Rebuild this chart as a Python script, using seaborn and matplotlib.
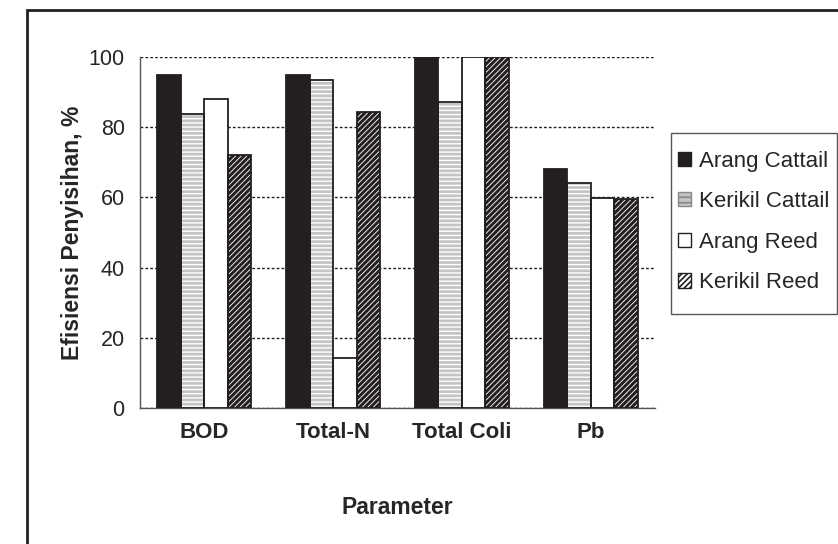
import matplotlib
matplotlib.use("Agg")
import matplotlib.pyplot as plt
import matplotlib.patches as mpatches
import seaborn as sns
import pandas as pd

categories = ["BOD", "Total-N", "Total Coli", "Pb"]
series = ["Arang Cattail", "Kerikil Cattail", "Arang Reed", "Kerikil Reed"]
arang_cattail = [95, 95, 100, 68]
kerikil_cattail = [83.7, 93.4, 87.3, 64]
arang_reed = [88, 14.2, 100, 59.7]
kerikil_reed = [72.2, 84.3, 100, 59.5]
yticks = [0, 20, 40, 60, 80, 100]

rows = []
for name, vals in zip(series, [arang_cattail, kerikil_cattail, arang_reed, kerikil_reed]):
    for c, v in zip(categories, vals):
        rows.append({"Parameter": c, "Series": name, "Value": v})
df = pd.DataFrame(rows)

sns.set_style("white")
plt.rcParams["font.family"] = ["Liberation Sans", "DejaVu Sans"]
plt.rcParams["hatch.linewidth"] = 1.2

dark = "#231f20"
W, H = 838, 544
fig = plt.figure(figsize=(8.38, 5.44), dpi=100)
ax = fig.add_axes([140 / W, 1 - 408 / H, (655 - 140) / W, (408 - 57) / H])

sns.barplot(data=df, x="Parameter", y="Value", hue="Series", order=categories,
            hue_order=series, ax=ax, width=0.73, gap=0, errorbar=None,
            palette=["white"] * 4, saturation=1, legend=False)

styles = [
    dict(fc=dark, hatch=None, hc=dark, hlw=1.2),
    dict(fc="#c4c4c4", hatch="----", hc="white", hlw=1.0),
    dict(fc="white", hatch=None, hc=dark, hlw=1.2),
    dict(fc="white", hatch="//////", hc=dark, hlw=2.2),
]
for cont, st in zip(ax.containers, styles):
    for p in cont.patches:
        p.set_facecolor(st["fc"])
        p.set_hatch(st["hatch"])
        p.set_edgecolor(st["hc"])
        p.set_linewidth(0)
        if hasattr(p, "set_hatch_linewidth"):
            p.set_hatch_linewidth(st["hlw"])
        ax.add_patch(mpatches.Rectangle(p.get_xy(), p.get_width(), p.get_height(),
                                        facecolor="none", edgecolor=dark, lw=1.3, zorder=3))

ax.set_ylim(0, 100)
ax.set_xlim(-0.5, len(categories) - 0.5)
ax.set_yticks(yticks)
ax.set_yticklabels([str(t) for t in yticks], fontsize=15.5)
ax.yaxis.grid(True, linestyle=(0, (2, 1.5)), color=dark, linewidth=1)
ax.set_axisbelow(True)
ax.tick_params(axis="y", direction="inout", length=8, width=1, color="#555555", pad=7)
ax.set_xticks(range(len(categories)))
ax.set_xticklabels(categories, fontsize=16, fontweight="bold")
ax.tick_params(axis="x", length=0, pad=10)
ax.set_xticks([i - 0.5 for i in range(len(categories) + 1)], minor=True)
ax.tick_params(axis="x", which="minor", direction="out", length=6, width=1, color="#555555")
for s in ["top", "right"]:
    ax.spines[s].set_visible(False)
for s in ["left", "bottom"]:
    ax.spines[s].set_color("#555555")
    ax.spines[s].set_linewidth(1)

ax.set_ylabel("Efisiensi Penyisihan, %", fontsize=16.5, fontweight="bold", labelpad=3)
ax.set_xlabel("Parameter", fontsize=16.5, fontweight="bold", labelpad=38)

handles = [mpatches.Patch(facecolor=st["fc"], hatch=st["hatch"], edgecolor=dark, lw=1)
           for st in styles]
handles[1] = mpatches.Patch(facecolor="#c4c4c4", hatch="---", edgecolor="#888888", lw=1)
leg = ax.legend(handles, series, loc="upper left", bbox_to_anchor=(671 / W, 1 - 144 / H),
                bbox_transform=fig.transFigure, fontsize=16, frameon=False,
                borderpad=0.3, labelspacing=0.88, handlelength=0.6, handleheight=0.6,
                handletextpad=0.35, borderaxespad=0)

# legend frame
fig.add_artist(mpatches.Rectangle((671 / W, 1 - 314 / H), (837 - 671) / W, (314 - 133) / H,
                                  transform=fig.transFigure, facecolor="none",
                                  edgecolor="#555555", lw=1, clip_on=False))

# outer chart border
fig.add_artist(mpatches.Rectangle((27 / W, -0.1), 1.2, 1.1 - 10 / H,
                                  transform=fig.transFigure, facecolor="none",
                                  edgecolor=dark, lw=2, clip_on=False))

fig.savefig("out.png", dpi=100)
